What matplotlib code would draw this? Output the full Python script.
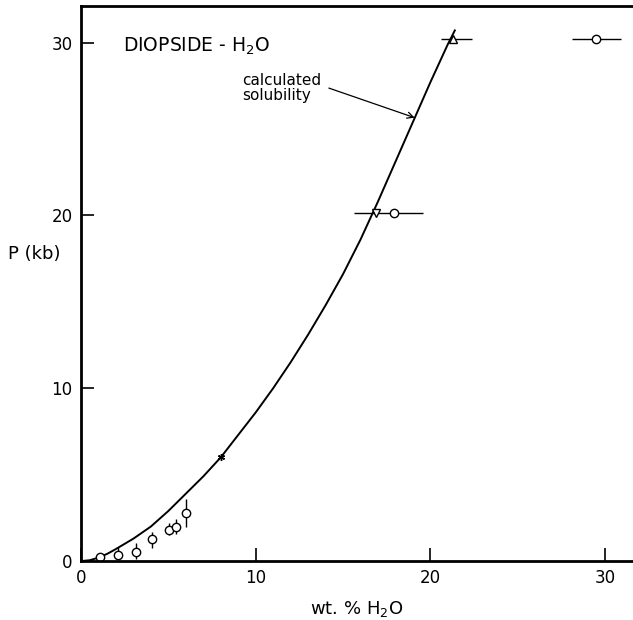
import numpy as np
import matplotlib.pyplot as plt

plt.rcParams['font.family'] = ['DejaVu Sans']

# calculated solubility curve
curve_x = [0, 0.5, 1, 1.5, 2, 3, 4, 5, 6, 7, 8, 9, 10, 11, 12, 13, 14, 15, 16, 17, 18, 19, 20, 21, 21.4]
curve_p = [0, 0.05, 0.2, 0.42, 0.7, 1.3, 2.0, 2.9, 3.9, 4.9, 6.0, 7.3, 8.6, 10.0, 11.5, 13.1, 14.8, 16.6, 18.6, 20.8, 23.1, 25.4, 27.7, 29.9, 30.7]

# low pressure points with vertical error bars
lo_x = [1.1, 2.1, 3.15, 4.07, 5.04, 5.44, 6.0]
lo_p = [0.23, 0.35, 0.52, 1.27, 1.8, 1.97, 2.8]
lo_plo = [0.1, 0.29, 0.40, 0.52, 0.3, 0.4, 0.8]
lo_phi = [0.15, 0.45, 0.52, 0.41, 0.4, 0.45, 0.8]

# high pressure points with horizontal error bars
circ_x = [17.9, 29.5]
circ_p = [20.15, 30.2]
circ_xlo = [2.3, 1.4]
circ_xhi = [1.7, 1.4]
tri_up = (21.3, 30.2, 0.7, 1.1)
tri_dn = (16.9, 20.15)
star = (8.0, 6.0)

fig = plt.figure(figsize=(6.33, 6.2), dpi=100)
ax = fig.add_axes([0.128, 0.095, 0.872, 0.895])

ax.plot(curve_x, curve_p, color='k', lw=1.4)

ax.errorbar(lo_x, lo_p, yerr=[lo_plo, lo_phi], fmt='o', mfc='white', mec='k',
            ecolor='k', ms=6, mew=1.0, elinewidth=1.0, capsize=0)
ax.errorbar(circ_x, circ_p, xerr=[circ_xlo, circ_xhi], fmt='o', mfc='white', mec='k',
            ecolor='k', ms=6, mew=1.0, elinewidth=1.0, capsize=0)
ax.errorbar([tri_up[0]], [tri_up[1]], xerr=[[tri_up[2]], [tri_up[3]]], fmt='^', mfc='white',
            mec='k', ecolor='k', ms=6, mew=1.0, elinewidth=1.0, capsize=0)
ax.plot([tri_dn[0]], [tri_dn[1]], 'v', mfc='white', mec='k', ms=6, mew=1.0)
ax.plot([star[0]], [star[1]], marker=(6, 2, 0), color='k', ms=5, mew=1.0)

ax.text(2.4, 29.75, 'DIOPSIDE - H$_2$O', fontsize=13.5, va='center', ha='left')
ax.annotate('calculated\nsolubility', xy=(19.1, 25.65), xytext=(9.2, 27.35),
            fontsize=11, va='center', ha='left', linespacing=1.0,
            arrowprops=dict(arrowstyle='->', color='k', lw=0.9, shrinkA=4, shrinkB=0,
                            relpos=(1.0, 0.6)))

ax.set_xlim(0, 31.6)
ax.set_ylim(0, 32.1)
ax.set_xticks([0, 10, 20, 30])
ax.set_yticks([0, 10, 20, 30])
ax.tick_params(direction='in', length=9.5, width=1.2, labelsize=12, pad=6)
for s in ['left', 'bottom', 'top']:
    ax.spines[s].set_linewidth(2)
ax.spines['right'].set_visible(False)

ax.set_xlabel('wt. % H$_2$O', fontsize=13, labelpad=8)
fig.text(0.012, 1 - 254 / 620, 'P (kb)', fontsize=13, va='center', ha='left')

fig.savefig('out.png', dpi=100)
